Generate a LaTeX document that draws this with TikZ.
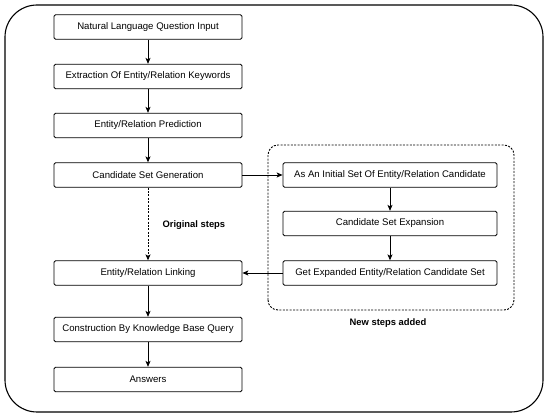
\documentclass[tikz,border=0pt]{standalone}
\usepackage{fontspec}
\setmainfont{Liberation Sans}
\usetikzlibrary{arrows.meta,positioning}
\begin{document}
\begin{tikzpicture}[x=1pt,y=1pt,
  stepbox/.style={draw,line width=0.8pt,rounded corners=1.5pt,minimum width=188pt,minimum height=24.5pt,inner sep=0pt,font=\fontsize{9.6}{11}\selectfont,fill=white},
  rbox/.style={stepbox,minimum width=214pt},
  arr/.style={line width=0.8pt,-{Stealth[length=6pt,width=5pt,inset=1.5pt]}},
  lbl/.style={font=\bfseries\fontsize{9.4}{11}\selectfont}]
\useasboundingbox (0,0) rectangle (550,418);
\draw[line width=1.1pt,rounded corners=32pt] (5,6) rectangle (543,413);
\draw[line width=0.9pt,dash pattern=on 2pt off 1.4pt,rounded corners=10pt] (268,108) rectangle (514,273);
\node[stepbox] (n1) at (148,391) {Natural Language Question Input};
\node[stepbox] (n2) at (148,341.5) {Extraction Of Entity/Relation Keywords};
\node[stepbox] (n3) at (148,292.5) {Entity/Relation Prediction};
\node[stepbox] (n4) at (148,243) {Candidate Set Generation};
\node[stepbox] (n5) at (148,145) {Entity/Relation Linking};
\node[stepbox] (n6) at (148,88.5) {Construction By Knowledge Base Query};
\node[stepbox] (n7) at (148,38.5) {Answers};
\node[rbox] (r1) at (390,243) {As An Initial Set Of Entity/Relation Candidate};
\node[rbox] (r2) at (390,194.5) {Candidate Set Expansion};
\node[rbox] (r3) at (390,145) {Get Expanded Entity/Relation Candidate Set};
\node[lbl,anchor=west] (l1) at (159,193) {Original steps};
\node[lbl] (l2) at (388,95) {New steps added};
\draw[arr] (n1) -- (n2);
\draw[arr] (n2) -- (n3);
\draw[arr] (n3) -- (n4);
\draw[arr,dash pattern=on 2pt off 1.4pt] (n4) -- (n5);
\draw[arr] (n5) -- (n6);
\draw[arr] (n6) -- (n7);
\draw[arr] (n4) -- (r1);
\draw[arr] (r1) -- (r2);
\draw[arr] (r2) -- (r3);
\draw[arr] (r3) -- (n5);
\end{tikzpicture}
\end{document}
